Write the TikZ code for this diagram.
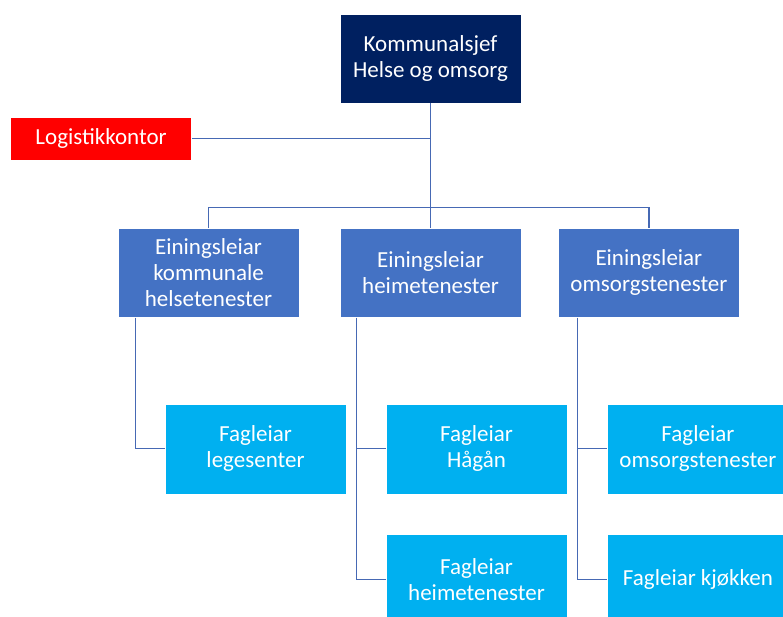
\documentclass[tikz,border=0pt]{standalone}
\usepackage{fontspec}
\setmainfont{Carlito}
\usetikzlibrary{%
  positioning,
}

\definecolor{chiefblue}{RGB}{0,32,96}
\definecolor{unitblue}{RGB}{68,114,196}
\definecolor{leadblue}{RGB}{0,176,240}
\definecolor{lineblue}{RGB}{70,105,180}

\begin{document}
\begin{tikzpicture}[
    every text node part/.style={align=center},
    font=\fontsize{23}{26}\selectfont,
    box/.style={
      % The shape:
      rectangle,
      % The size:
      minimum width=181pt,
      minimum height=89pt,
      inner sep=0pt,
      % The border:
      draw=white,
      line width=0.4pt,
      text=white,
    },
    chief/.style={box, fill=chiefblue},
    staff/.style={box, fill=red, minimum height=43pt},
    unit/.style={box, fill=unitblue},
    lead/.style={box, fill=leadblue, minimum height=90pt},
    link/.style={draw=lineblue, line width=1.3pt},
  ]

    \useasboundingbox (0,0) rectangle (783pt,-617pt);
    \clip (0,0) rectangle (783pt,-617pt);

    \node[chief] (kommunalsjef) at (430.5pt,-58.5pt) {Kommunalsjef \\ Helse og omsorg};
    \node[staff] (logistikk) [left=148pt of kommunalsjef, yshift=-80pt] {Logistikkontor};

    \node[unit] (helse) [below=125pt of kommunalsjef, xshift=-222pt] {Einingsleiar \\ kommunale \\ helsetenester};
    \node[unit] (heime) [below=125pt of kommunalsjef] {Einingsleiar \\ heimetenester};
    \node[unit] (omsorg) [right=37pt of heime] {Einingsleiar \\ omsorgstenester};

    \node[lead] (legesenter) [below=86pt of helse, xshift=47pt] {Fagleiar \\ legesenter};
    \node[lead] (haagaan) [below=86pt of heime, xshift=46pt] {Fagleiar \\ Hågån};
    \node[lead] (heimeteam) [below=40pt of haagaan] {Fagleiar \\ heimetenester};
    \node[lead] (omsorgteam) [below=86pt of omsorg, xshift=49pt] {Fagleiar \\ omsorgstenester};
    \node[lead] (kjokken) [below=40pt of omsorgteam] {Fagleiar kjøkken};

    \coordinate (bar) at ([yshift=21pt]heime.north);

    \draw[link] (kommunalsjef.south) -- (heime.north);
    \draw[link] (logistikk.east) -- (logistikk.east -| kommunalsjef.south);
    \draw[link] (helse.north) |- (bar) -| (omsorg.north);

    \draw[link] ([xshift=18pt]helse.south west) |- (legesenter.west);
    \draw[link] ([xshift=17pt]heime.south west) |- (heimeteam.west);
    \draw[link] ([xshift=17pt]heime.south west |- haagaan.west) -- (haagaan.west);
    \draw[link] ([xshift=19pt]omsorg.south west) |- (kjokken.west);
    \draw[link] ([xshift=19pt]omsorg.south west |- omsorgteam.west) -- (omsorgteam.west);
  \end{tikzpicture}
\end{document}
